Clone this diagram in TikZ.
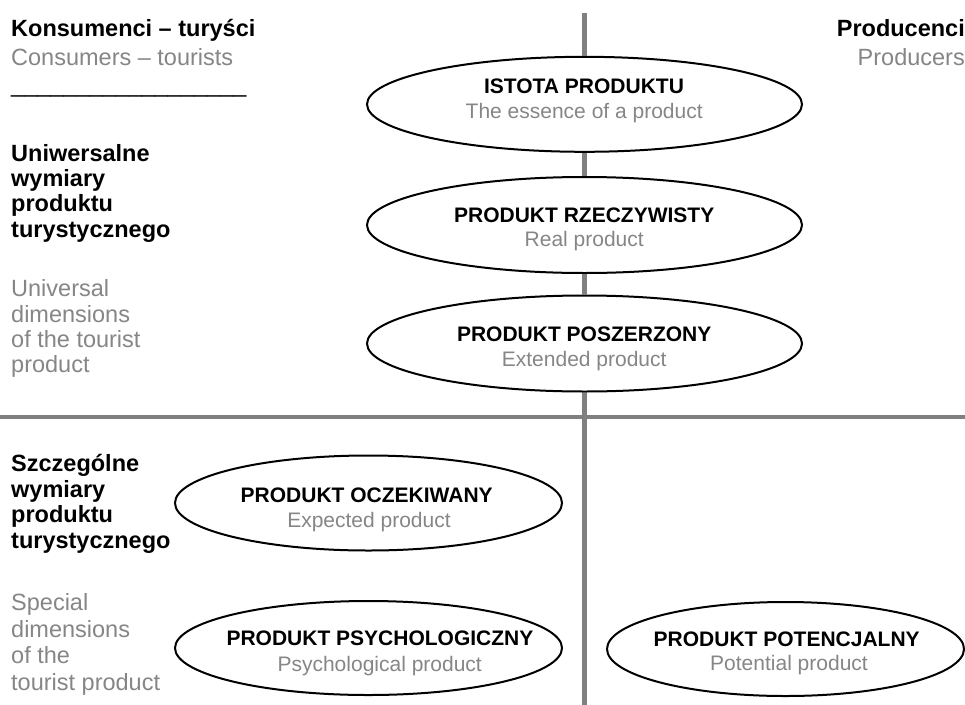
\documentclass[tikz,border=0pt]{standalone}
\usepackage{fontspec}
\setmainfont{Liberation Sans}
\usetikzlibrary{shapes.geometric}
\definecolor{linegray}{RGB}{128,128,128}
\definecolor{txtgray}{RGB}{134,134,134}
\begin{document}
\begin{tikzpicture}[x=1pt,y=-1pt,
  prodell/.style={ellipse, draw=black, line width=2pt, fill=white, inner sep=0pt, minimum width=#1},
  sideb/.style={anchor=base west, inner sep=0pt, font=\fontsize{23.5}{25.5}\selectfont\bfseries},
  sideg/.style={anchor=base west, inner sep=0pt, text=txtgray, font=\fontsize{23.5}{25.5}\selectfont},
  ptitle/.style={anchor=base, inner sep=0pt, font=\fontsize{21}{24}\selectfont\bfseries},
  pname/.style={anchor=base, inner sep=0pt, text=txtgray, font=\fontsize{21}{24}\selectfont},
  axis/.style={draw=linegray, line width=4.5pt}]
\useasboundingbox (0,0) rectangle (965,704);
\fill[white] (0,0) rectangle (965,704);

% axis lines
\coordinate (hl) at (0,416.8);
\coordinate (hr) at (965,416.8);
\coordinate (vtop) at (584.5,12.7);
\coordinate (vbot) at (584.5,705);

% ellipses
\node[prodell=435, minimum height=95] (e1) at (584.5,104.3) {};
\node[prodell=435, minimum height=96] (e2) at (584.5,225) {};
\node[prodell=435, minimum height=96] (e3) at (584.5,343.5) {};
\node[prodell=387, minimum height=95] (e4) at (368.5,503) {};
\node[prodell=387, minimum height=94] (e5) at (368.5,648) {};
\node[prodell=357, minimum height=94] (e6) at (785.5,649) {};

\draw[axis] (hl) -- (hr);
\draw[axis] (vtop) -- (e1.north);
\draw[axis] (e1.south) -- (e2.north);
\draw[axis] (e2.south) -- (e3.north);
\draw[axis] (e3.south) -- (vbot);

% ellipse texts
\node[ptitle] (t1) at (584,93.5) {ISTOTA PRODUKTU};
\node[pname] (n1) at (584.2,118) {The essence of a product};
\node[ptitle] (t2) at (584.2,222.7) {PRODUKT RZECZYWISTY};
\node[pname] (n2) at (584.2,246.7) {Real product};
\node[ptitle] (t3) at (584.2,341.7) {PRODUKT POSZERZONY};
\node[pname] (n3) at (584.2,366) {Extended product};
\node[ptitle] (t4) at (366.7,502.7) {PRODUKT OCZEKIWANY};
\node[pname] (n4) at (369,527.3) {Expected product};
\node[ptitle] (t5) at (380,645) {PRODUKT PSYCHOLOGICZNY};
\node[pname] (n5) at (379.7,671.5) {Psychological product};
\node[ptitle] (t6) at (786.7,646) {PRODUKT POTENCJALNY};
\node[pname] (n6) at (789,670) {Potential product};

% header left
\node[sideb] (kons) at (11,36.7) {Konsumenci – turyści};
\node[sideg] (cons) at (11,65.7) {Consumers – tourists};
\node[sideg, text=black] (rule) at (11,92.3) {\_\_\_\_\_\_\_\_\_\_\_\_\_\_\_\_\_\_};

% header right
\node[sideb, anchor=base east] (prodc) at (965,36.7) {Producenci};
\node[sideg, anchor=base east] (prods) at (965,65.5) {Producers};

% upper left block
\node[sideb] (u1) at (11,161.5) {Uniwersalne};
\node[sideb] (u2) at (11,186.7) {wymiary};
\node[sideb] (u3) at (11,211.9) {produktu};
\node[sideb] (u4) at (11,237.1) {turystycznego};
\node[sideg] (ug1) at (11,296.7) {Universal};
\node[sideg] (ug2) at (11,322.1) {dimensions};
\node[sideg] (ug3) at (11,347.5) {of the tourist};
\node[sideg] (ug4) at (11,372.9) {product};

% lower left block
\node[sideb] (s1) at (11,471.7) {Szczególne};
\node[sideb] (s2) at (11,497.2) {wymiary};
\node[sideb] (s3) at (11,522.7) {produktu};
\node[sideb] (s4) at (11,548.2) {turystycznego};
\node[sideg] (sg1) at (11,610.5) {Special};
\node[sideg] (sg2) at (11,637) {dimensions};
\node[sideg] (sg3) at (11,663.5) {of the};
\node[sideg] (sg4) at (11,690) {tourist product};
\end{tikzpicture}
\end{document}
